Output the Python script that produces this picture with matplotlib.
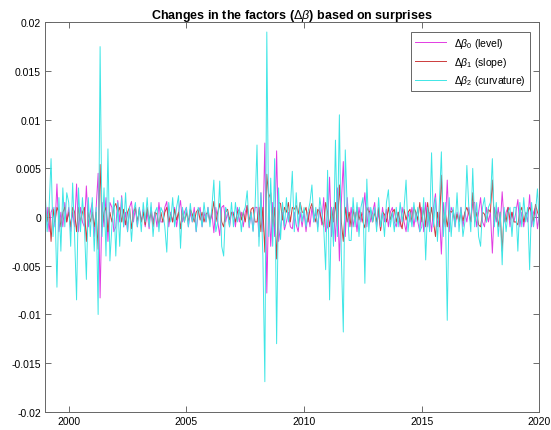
import numpy as np
import matplotlib
matplotlib.use('Agg')
import matplotlib.pyplot as plt
from matplotlib.ticker import FormatStrFormatter, FuncFormatter

plt.rcParams['font.family'] = ['Liberation Sans', 'DejaVu Sans']
plt.rcParams['mathtext.fontset'] = 'custom'
plt.rcParams['mathtext.rm'] = 'Liberation Sans'
plt.rcParams['mathtext.it'] = 'Liberation Sans:italic'
plt.rcParams['mathtext.bf'] = 'Liberation Sans:bold'

# monthly factor changes, Jan 1999 .. Jan 2020, in units of 1e-3
start_year = 1999

level = [
    -1.3, 1.0, -1.5, 0.5, 1.0, -1.0, 3.4, -1.5, 0.5, -1.0, 1.5, -0.5,   # 1999
    1.0, -1.5, 0.5, -1.0, 3.4, -1.5, 1.0, -0.5, -1.0, 3.2, -1.0, 0.5,   # 2000
    1.5, -2.0, 1.0, 4.5, -8.3, 1.5, -1.0, 2.0, -2.5, 1.5, 1.0, -1.5,    # 2001
    -1.0, 1.7, -0.5, 2.2, -1.0, 0.5, -1.5, 1.0, 1.6, -0.5, 1.0, -1.0,   # 2002
    1.0, -0.5, 0.8, -1.0, 0.5, -1.2, 1.0, -0.5, 0.5, -1.0, 1.5, -0.5,   # 2003
    -0.5, 1.0, 1.6, -1.0, 0.5, -0.5, 1.0, -1.0, 0.5, 1.7, -0.5, 0.5,    # 2004
    1.0, -1.0, 0.5, -0.5, 1.0, -1.5, 0.5, 1.0, -1.0, 0.5, -0.5, 1.0,    # 2005
    -0.5, 0.5, -1.6, 1.0, -0.5, -1.9, 1.0, 1.2, -0.5, 0.5, -1.0, 0.5,   # 2006
    0.5, -1.0, 1.0, -0.5, 0.5, -1.0, 0.5, 1.2, -1.1, 0.5, -1.4, 1.0,    # 2007
    1.0, -2.0, 2.5, -1.5, 7.6, -7.8, 2.0, -3.0, 1.5, -2.0, 6.8, -2.5,   # 2008
    -1.0, 0.5, -1.3, -0.5, 0.5, -1.0, -1.2, 0.5, -0.8, -1.5, 0.5, -1.0, # 2009
    0.5, -1.5, 0.5, -1.0, 1.0, -0.5, 0.5, -1.0, 1.0, -0.8, 2.0, -1.5,   # 2010
    -1.0, 4.1, -2.0, 1.0, -2.5, 3.0, -4.5, 1.5, 5.7, -2.0, 2.0, -1.0,   # 2011
    1.0, -1.0, 0.5, -1.5, 1.0, -0.5, 0.5, 2.5, -1.0, 1.0, -0.5, 0.5,    # 2012
    1.5, -1.0, 0.5, -1.3, 1.0, -0.5, 0.8, -1.0, 0.5, 1.0, -0.5, -1.0,   # 2013
    0.5, -1.0, 1.0, -0.5, -1.5, 0.5, -0.5, 1.0, -1.0, 0.5, -0.5, -1.5,  # 2014
    1.0, -1.5, 1.5, -1.0, 0.5, -1.5, 1.0, 2.4, -1.0, 0.5, -3.8, 1.5,    # 2015
    -1.0, 3.8, -1.5, 1.0, 0.5, -1.0, 0.5, -0.5, 1.0, -1.0, 0.5, -0.5,   # 2016
    1.0, -0.5, 1.5, 1.5, -1.0, 0.5, 2.0, -0.5, -1.0, 1.0, -0.5, 0.5,    # 2017
    -3.7, 1.0, -0.5, 1.0, -1.0, 2.6, -0.5, 0.5, 1.0, -1.0, 0.5, -0.5,   # 2018
    0.5, 1.8, -1.0, 0.5, -1.0, 0.5, -0.5, 2.3, -1.0, 0.5, 1.0, -1.2,    # 2019
    0.5,                                                                # 2020
]

slope = [
    0.5, -0.5, 1.0, -2.5, 0.8, -0.5, 1.0, 0.5, -1.0, 0.5, 1.0, -0.5,    # 1999
    0.5, -1.0, 1.0, 0.5, -1.5, 1.0, -0.5, 0.5, 1.0, -2.5, 0.5, -0.5,    # 2000
    0.5, -1.0, 0.5, -3.3, 5.4, -1.0, 0.5, 1.0, -1.5, 0.5, -0.5, 1.0,    # 2001
    1.4, 0.5, 1.0, -0.5, 0.8, -0.8, 0.5, 1.0, -1.2, 0.5, 1.0, -0.5,     # 2002
    0.8, -0.5, 0.5, -0.8, 1.0, -0.3, 0.5, -1.0, 0.5, 0.3, -0.8, 0.5,    # 2003
    -0.5, 0.5, 1.0, -0.5, 0.3, -0.5, 0.8, -0.3, 0.5, -1.2, 0.8, -0.5,   # 2004
    0.5, -0.5, 0.8, 0.3, -0.5, 0.5, 0.8, -0.3, 0.5, -0.5, 0.3, 0.5,     # 2005
    -0.5, 0.3, 1.6, -0.5, 0.5, 1.4, -0.5, -1.0, 0.5, 0.8, -0.3, 0.5,    # 2006
    0.3, -0.5, 0.5, 0.8, -0.3, 0.5, -0.5, 1.2, -0.5, 0.8, 1.0, -0.5,    # 2007
    -0.5, 1.0, -1.5, 1.0, -3.6, 4.4, 2.0, 2.5, -1.0, 1.0, -4.3, 1.5,    # 2008
    1.4, -0.3, 1.0, 0.5, 1.5, -0.5, 1.0, 0.8, 1.2, 0.3, 1.5, 0.5,       # 2009
    0.5, 1.0, -0.5, 0.8, 1.4, 0.3, -0.5, 0.8, 0.5, -0.3, -1.0, 1.5,     # 2010
    0.5, -1.0, 1.0, -0.5, 1.5, -1.0, 3.3, -0.5, -2.5, 1.0, -0.5, 0.5,   # 2011
    -1.0, 0.8, -0.5, 1.0, -0.3, 0.5, -0.5, -1.1, 1.0, 0.5, 0.7, -0.5,   # 2012
    0.5, -0.5, 1.0, -1.4, 0.5, 0.3, -0.5, 1.0, -0.3, 0.5, 0.8, -0.5,    # 2013
    0.5, -0.5, -1.2, 0.8, -0.3, 0.5, 0.8, -0.5, 1.0, 0.5, -0.3, 1.5,    # 2014
    -0.5, 1.0, -1.0, 1.5, -0.5, 1.0, -0.5, -2.0, 0.5, -1.0, 4.3, -1.0,  # 2015
    0.5, -1.0, 0.7, 0.5, 0.7, -0.5, 0.3, -0.5, 0.5, -0.4, 0.5, 1.0,     # 2016
    0.3, -0.5, 2.5, -0.5, 0.5, -0.8, -1.0, 0.5, 0.3, -0.5, 0.8, 0.5,    # 2017
    3.8, -0.5, 0.8, -1.0, 0.5, -3.5, 0.5, -0.5, 1.0, -0.3, 0.5, -0.5,   # 2018
    -0.5, -0.8, 0.5, 1.0, -0.5, 0.3, 0.5, 1.0, 0.5, -0.5, 1.3, 0.5,     # 2019
    0.0,                                                                # 2020
]

curvature = [
    2.5, -1.5, 1.0, 6.0, -2.0, 1.0, -7.2, 2.0, -3.5, 3.0, -1.0, 2.5,    # 1999
    1.5, -3.0, 3.5, -2.0, -8.5, 3.0, -1.5, 2.0, -1.0, -6.4, 2.0, -2.0,  # 2000
    2.0, -3.5, 1.0, -10.0, 17.5, -2.0, 3.0, -4.0, 7.0, -4.5, -1.0, 2.0, # 2001
    -4.0, 1.5, -3.0, 2.0, -1.0, 2.5, -1.5, 1.0, -2.5, 0.5, 1.5, -1.0,   # 2002
    1.0, -1.5, 1.5, -0.5, 2.0, -1.0, 1.5, -2.0, 0.5, 1.0, -1.5, 1.0,    # 2003
    0.5, -1.0, -3.6, 1.5, -0.5, 2.0, -1.0, 1.0, 2.2, -3.2, 1.0, -0.5,   # 2004
    1.0, -1.0, 1.4, -0.5, 0.5, -1.5, 1.0, 0.5, -1.0, 1.5, -0.5, 1.0,    # 2005
    -1.0, 1.0, 3.8, -1.5, -0.5, 3.7, -3.0, -4.0, 1.0, 0.5, -1.0, 1.5,   # 2006
    -1.0, 1.5, -0.5, 1.0, -1.5, 0.5, 1.0, 2.7, -1.0, 0.5, -1.5, 1.0,    # 2007
    7.4, -3.0, 2.5, -4.0, -16.9, 19.0, -2.0, 4.0, -3.0, 6.0, -13.0, 3.0,  # 2008
    -2.3, 1.5, -1.0, 2.0, -0.5, 1.0, 4.7, -1.5, 2.5, -1.0, 1.5, -0.5,   # 2009
    1.0, -1.0, 0.5, 1.5, 3.3, -0.5, 1.0, -1.5, 2.0, 0.5, -1.0, -5.4,    # 2010
    4.8, -8.5, 1.0, -3.0, 7.9, -2.0, 10.5, -4.0, -11.8, 6.9, 1.0, -2.4, # 2011
    -2.4, 2.0, -1.0, 1.5, -2.0, 1.0, 2.0, -6.8, 3.9, -1.5, 1.0, -0.5,   # 2012
    1.0, -1.5, 2.0, -1.0, 0.5, -2.0, 1.5, 2.8, -1.0, 0.5, -1.5, 1.0,    # 2013
    -1.0, 1.5, -0.5, 1.0, 3.8, -1.5, 0.5, -1.0, 1.5, -0.5, 1.0, -1.5,   # 2014
    -1.0, 2.0, -4.4, 1.0, -1.5, 6.6, -1.0, 2.0, -2.5, 1.5, 6.7, -2.0,   # 2015
    1.5, -10.6, 2.0, -2.0, 1.0, -1.0, 2.5, -1.5, 1.0, -2.0, -0.5, 5.3,  # 2016
    1.0, -1.5, 5.0, -1.0, 1.5, -2.0, -3.0, 1.0, 2.0, -0.5, 1.0, 1.5,    # 2017
    6.0, -1.0, 1.5, -2.0, 0.5, -4.9, 1.0, -1.5, 0.5, 1.0, -2.0, 1.0,    # 2018
    1.0, -3.5, 1.5, -1.0, 2.0, -0.5, 1.0, -5.4, 1.5, -1.0, 0.5, 2.9,    # 2019
    -1.0,                                                               # 2020
]

labels = [r'$\Delta\beta_0$ (level)', r'$\Delta\beta_1$ (slope)',
          r'$\Delta\beta_2$ (curvature)']
colors = ['#e23ce2', '#cc3b3b', '#3ee6e6']

t = start_year + np.arange(len(level)) / 12.0

fig = plt.figure(figsize=(5.51, 4.31), dpi=100)
ax = fig.add_axes([0.082, 0.042, 0.897, 0.904])

for series, lab, c in zip([level, slope, curvature], labels, colors):
    ax.plot(t, np.array(series) * 1e-3, color=c, lw=0.7, label=lab)

ax.set_xlim(1999, 2020)
ax.set_ylim(-0.02, 0.02)
ax.set_xticks([2000, 2005, 2010, 2015, 2020])
ax.set_yticks(np.arange(-0.02, 0.0201, 0.005))
ax.yaxis.set_major_formatter(FuncFormatter(lambda v, p: '%g' % round(v, 4)))
ax.tick_params(direction='in', top=True, right=True, labelsize=7.5,
               length=4, width=0.6, color='#555555', pad=3)
for sp in ax.spines.values():
    sp.set_color('#666666')
    sp.set_linewidth(0.7)

ax.set_title(r'Changes in the factors ($\Delta\beta$) based on surprises',
             fontsize=9, fontweight='bold', pad=3)

leg = ax.legend(loc='upper right', fontsize=7.5, fancybox=False,
                edgecolor='#666666', framealpha=1, handlelength=3.0,
                borderaxespad=0.9, labelspacing=0.45)
leg.get_frame().set_linewidth(0.7)

fig.savefig('out.png', dpi=100)
